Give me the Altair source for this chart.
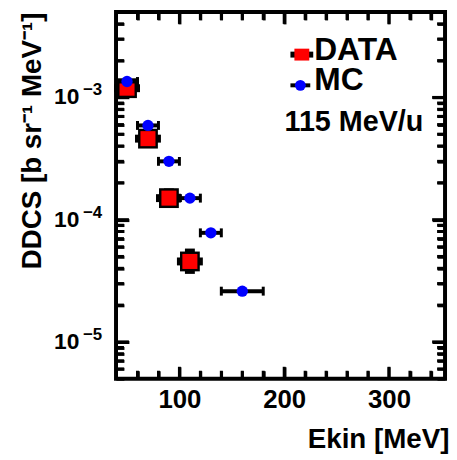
import altair as alt
import pandas as pd

# ---------------- data ----------------
mc_x = [50, 70, 90, 110, 130, 160]
mc_xerr = [10, 10, 10, 10, 10, 20]
mc_y = [1.35e-3, 5.9e-4, 3.0e-4, 1.5e-4, 7.8e-5, 2.6e-5]

data_x = [50, 70, 90, 110]
data_xerr = [10, 10, 10, 10]
data_y = [1.19e-3, 4.6e-4, 1.5e-4, 4.55e-5]
data_ylo = [1.05e-3, 4.2e-4, 1.25e-4, 3.6e-5]
data_yhi = [1.35e-3, 5.0e-4, 1.8e-4, 5.8e-5]

x_labels = [100, 200, 300]
y_labels = [1e-5, 1e-4, 1e-3]
y_label_base = ["10", "10", "10"]
y_label_exp = ["\u22125", "\u22124", "\u22123"]
legend_labels = ["DATA", "MC"]
annotation = "115 MeV/u"
x_title = "Ekin [MeV]"
y_title = "DDCS [b sr\u207b\u00b9 MeV\u207b\u00b9]"

# ---------------- tables ----------------
mc = pd.DataFrame({"x": mc_x, "y": mc_y,
                   "lo": [a - e for a, e in zip(mc_x, mc_xerr)],
                   "hi": [a + e for a, e in zip(mc_x, mc_xerr)]})
dat = pd.DataFrame({"x": data_x, "y": data_y, "ylo": data_ylo, "yhi": data_yhi,
                    "lo": [a - e for a, e in zip(data_x, data_xerr)],
                    "hi": [a + e for a, e in zip(data_x, data_xerr)]})
ylab = pd.DataFrame({"v": y_labels, "base": y_label_base, "exp": y_label_exp})

W, H = 332, 370
FONT = "Liberation Sans"
X_DOM = [39.5, 353.5]
Y_DOM = [5e-6, 5e-3]

xs = alt.Scale(domain=X_DOM, nice=False, zero=False)
ys = alt.Scale(type="log", domain=Y_DOM, nice=False)

x_minor = [v for v in range(60, 341, 20) if v % 100 != 0]
x_major = list(x_labels)
y_minor = []
for k in range(-6, -2):
    for m in range(2, 10):
        v = float(f"{m}e{k}")
        if Y_DOM[0] <= v <= Y_DOM[1]:
            y_minor.append(v)
y_major = list(y_labels)


def X(field, axis=None):
    if axis is None:
        return alt.X(field, type="quantitative", scale=xs, axis=None)
    return alt.X(field, type="quantitative", scale=xs, axis=axis)


def Y(field, axis=None):
    if axis is None:
        return alt.Y(field, type="quantitative", scale=ys, axis=None)
    return alt.Y(field, type="quantitative", scale=ys, axis=axis)


# axes: x labels + both titles; y labels drawn as text marks
ax_x = alt.Axis(orient="bottom", values=x_labels, ticks=False, tickSize=0,
                domain=False, grid=False, labelFont=FONT, labelFontWeight="bold",
                labelFontSize=26, labelColor="black", labelPadding=8,
                labelBaseline="top",
                title=x_title, titleFont=FONT, titleFontWeight="bold",
                titleFontSize=28, titleColor="black", titleAnchor="end",
                titleAlign="right", titleBaseline="alphabetic",
                titleX=W + 4, titleY=69)
ax_y = alt.Axis(orient="left", values=y_labels, labels=False, ticks=False,
                tickSize=0, domain=False, grid=False,
                title=y_title, titleFont=FONT, titleFontWeight="bold",
                titleFontSize=28, titleColor="black", titleAngle=270,
                titleAlign="right", titleBaseline="alphabetic",
                titleX=-76, titleY=0)

axes_layer = alt.Chart(mc).mark_point(opacity=0).encode(
    x=X("x", ax_x), y=Y("y", ax_y))

TICK = "#000000"


# inner ticks (ROOT style), way 1: tick axes turned inwards by a negative offset
def tick_axis(orient, offset, values, size):
    return alt.Axis(orient=orient, offset=offset, values=values, labels=False,
                    domain=False, grid=False, ticks=True, tickSize=size,
                    tickWidth=3, tickColor=TICK, title=None)


hidden = alt.Chart(mc).mark_point(opacity=0)
axis_tick_layers = [
    hidden.encode(x=X("x", tick_axis("top", -H, x_minor, 8)), y=Y("y")),
    hidden.encode(x=X("x", tick_axis("top", -H, x_major, 12)), y=Y("y")),
    hidden.encode(x=X("x", tick_axis("bottom", -H, x_minor, 8)), y=Y("y")),
    hidden.encode(x=X("x", tick_axis("bottom", -H, x_major, 12)), y=Y("y")),
    hidden.encode(x=X("x"), y=Y("y", tick_axis("right", -W, y_minor, 8))),
    hidden.encode(x=X("x"), y=Y("y", tick_axis("right", -W, y_major, 13))),
    hidden.encode(x=X("x"), y=Y("y", tick_axis("left", -W, y_minor, 8))),
    hidden.encode(x=X("x"), y=Y("y", tick_axis("left", -W, y_major, 13))),
]


# way 2: rules from the frame inwards, tick values generated on the main table
def tick_source(values):
    arr = "[" + ",".join(repr(v) for v in values) + "]"
    return (alt.Chart(mc).transform_aggregate(n="count()")
            .transform_calculate(t=arr).transform_flatten(["t"]))


rule_tick_layers = []
for vals, ln in ((x_minor, 8), (x_major, 12)):
    src = tick_source(vals)
    rule_tick_layers.append(src.mark_rule(color=TICK, strokeWidth=3).encode(
        x=X("t"), y=alt.value(H), y2=alt.value(H - ln)))
    rule_tick_layers.append(src.mark_rule(color=TICK, strokeWidth=3).encode(
        x=X("t"), y=alt.value(0), y2=alt.value(ln)))
for vals, ln in ((y_minor, 8), (y_major, 13)):
    src = tick_source(vals)
    rule_tick_layers.append(src.mark_rule(color=TICK, strokeWidth=3).encode(
        y=Y("t"), x=alt.value(0), x2=alt.value(ln)))
    rule_tick_layers.append(src.mark_rule(color=TICK, strokeWidth=3).encode(
        y=Y("t"), x=alt.value(W), x2=alt.value(W - ln)))

# y tick labels 10^n
ylab_base = alt.Chart(ylab).mark_text(font=FONT, fontWeight="bold", fontSize=23,
                                      align="right", baseline="middle",
                                      color="black").encode(
    x=alt.value(-37), y=Y("v"), text="base:N")
ylab_exp = alt.Chart(ylab).mark_text(font=FONT, fontWeight="bold", fontSize=17,
                                     align="right", baseline="middle", dy=-7,
                                     color="black").encode(
    x=alt.value(-14), y=Y("v"), text="exp:N")

# DATA marks
data_bg = alt.Chart(dat).mark_square(color="black", size=400, opacity=1).encode(
    x=X("x"), y=Y("y"))
data_xbar = alt.Chart(dat).mark_rule(color="black", strokeWidth=4).encode(
    x=X("lo"), x2="hi", y=Y("y"))
data_ybar = alt.Chart(dat).mark_rule(color="black", strokeWidth=10).encode(
    x=X("x"), y=Y("ylo"), y2="yhi")
data_cap_lo = alt.Chart(dat).mark_tick(color="black", thickness=5, size=8,
                                       orient="vertical", opacity=1).encode(
    x=X("lo"), y=Y("y"))
data_cap_hi = alt.Chart(dat).mark_tick(color="black", thickness=5, size=8,
                                       orient="vertical", opacity=1).encode(
    x=X("hi"), y=Y("y"))
data_pt = alt.Chart(dat).mark_square(color="red", size=230, opacity=1).encode(
    x=X("x"), y=Y("y"))

# MC marks
mc_bar = alt.Chart(mc).mark_rule(color="black", strokeWidth=4).encode(
    x=X("lo"), x2="hi", y=Y("y"))
mc_cap_lo = alt.Chart(mc).mark_tick(color="black", thickness=3, size=9,
                                    orient="vertical", opacity=1).encode(
    x=X("lo"), y=Y("y"))
mc_cap_hi = alt.Chart(mc).mark_tick(color="black", thickness=3, size=9,
                                    orient="vertical", opacity=1).encode(
    x=X("hi"), y=Y("y"))
mc_pt = alt.Chart(mc).mark_circle(color="blue", size=130, opacity=1).encode(
    x=X("x"), y=Y("y"))

# legend / annotation
one = alt.Chart(pd.DataFrame({"k": [0]}))
leg_data_bar = one.mark_rule(color="black", strokeWidth=6).encode(
    x=alt.value(176), x2=alt.value(199), y=alt.value(43))
leg_data_box = one.mark_rect(color="red").encode(
    x=alt.value(180), x2=alt.value(195), y=alt.value(37), y2=alt.value(49))
leg_data_txt = one.mark_text(text=legend_labels[0], font=FONT, fontWeight="bold",
                             fontSize=32, align="left", baseline="alphabetic",
                             color="black").encode(x=alt.value(200), y=alt.value(48))
leg_mc_bar = one.mark_rule(color="black", strokeWidth=4).encode(
    x=alt.value(176), x2=alt.value(196), y=alt.value(74))
leg_mc_pt = one.mark_circle(color="blue", size=120, opacity=1).encode(
    x=alt.value(186), y=alt.value(74))
leg_mc_txt = one.mark_text(text=legend_labels[1], font=FONT, fontWeight="bold",
                           fontSize=32, align="left", baseline="alphabetic",
                           color="black").encode(x=alt.value(200), y=alt.value(79))
ann_txt = one.mark_text(text=annotation, font=FONT, fontWeight="bold",
                        fontSize=29, align="left", baseline="alphabetic",
                        color="black").encode(x=alt.value(170), y=alt.value(120))

chart = alt.layer(
    axes_layer, *axis_tick_layers, *rule_tick_layers, ylab_base, ylab_exp,
    data_xbar, data_ybar, data_cap_lo, data_cap_hi, data_bg, data_pt,
    mc_bar, mc_cap_lo, mc_cap_hi, mc_pt,
    leg_data_bar, leg_data_box, leg_data_txt,
    leg_mc_bar, leg_mc_pt, leg_mc_txt, ann_txt,
).resolve_axis(x="independent", y="independent").properties(
    width=W, height=H,
    autosize=alt.AutoSizeParams(type="none"),
    padding={"left": 109, "top": 2, "right": 4, "bottom": 76},
    background="white",
).configure_view(stroke="black", strokeWidth=4)

chart.save("out.html", embed_options={"renderer": "svg", "actions": False})
